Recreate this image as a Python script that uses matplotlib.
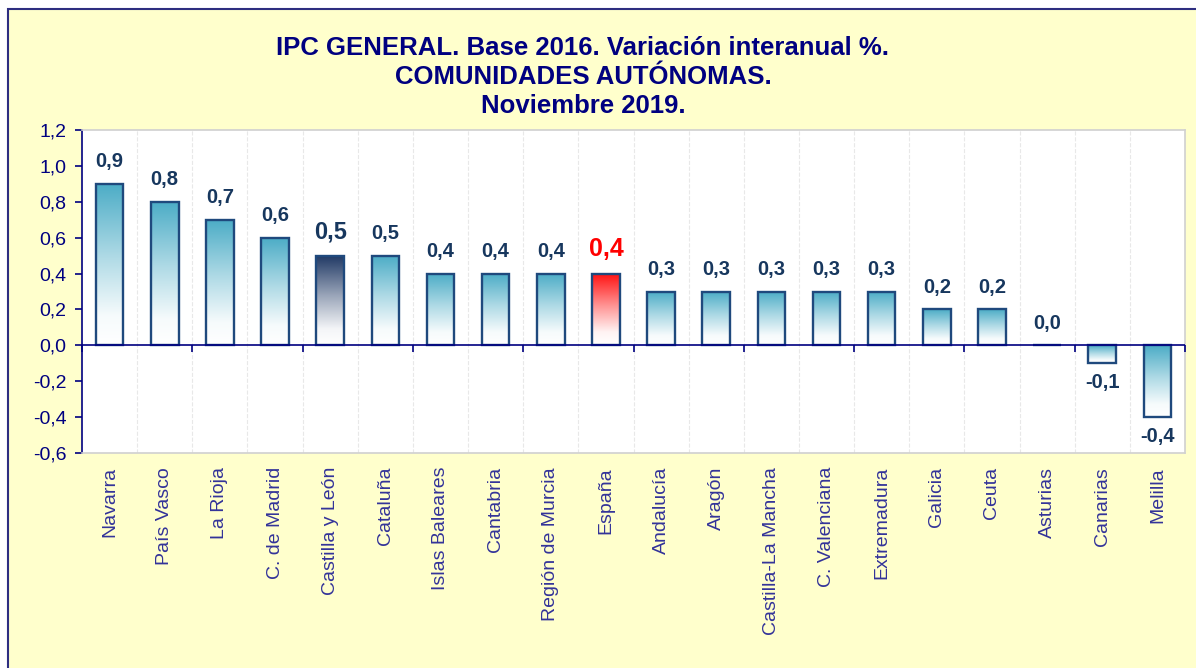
import numpy as np
import matplotlib
matplotlib.use("Agg")
import matplotlib.pyplot as plt
from matplotlib.colors import LinearSegmentedColormap, to_rgb
from matplotlib.patches import Rectangle
from matplotlib.ticker import FuncFormatter

plt.rcParams["font.family"] = ["Liberation Sans", "DejaVu Sans"]

# data
regions = [
    "Navarra", "País Vasco", "La Rioja", "C. de Madrid", "Castilla y León",
    "Cataluña", "Islas Baleares", "Cantabria", "Región de Murcia", "España",
    "Andalucía", "Aragón", "Castilla-La Mancha", "C. Valenciana", "Extremadura",
    "Galicia", "Ceuta", "Asturias", "Canarias", "Melilla",
]
values = [0.9, 0.8, 0.7, 0.6, 0.5, 0.5, 0.4, 0.4, 0.4, 0.4,
          0.3, 0.3, 0.3, 0.3, 0.3, 0.2, 0.2, 0.0, -0.1, -0.4]
title_lines = [
    "IPC GENERAL. Base 2016. Variación interanual %.",
    "COMUNIDADES AUTÓNOMAS.",
    "Noviembre 2019.",
]

NAVY = "#000080"
LABEL_COL = "#17375E"
EDGE = "#1F497D"
TEAL = "#4BACC6"
special = {"Castilla y León": ("#1F3864", LABEL_COL, 17),
           "España": ("#FF1010", "#FF0000", 18)}


def fmt(v):
    return f"{v:.1f}".replace(".", ",")


def fade_cmap(top):
    # white at the bottom of the bar, full colour at the top
    c = np.array(to_rgb(top))
    w = np.ones(3)
    mix = lambda f: tuple(w + (c - w) * f)
    return LinearSegmentedColormap.from_list(
        "g", [(0, "#FFFFFF"), (0.18, mix(0.05)), (0.55, mix(0.45)), (1, top)])


W, H = 1196, 668
fig = plt.figure(figsize=(W / 100, H / 100), dpi=100, facecolor="white")
fig.patches.append(Rectangle((8 / W, -0.02), 1.2, 1 - 9 / H + 0.02,
                             transform=fig.transFigure, facecolor="#FFFFCC",
                             edgecolor="#2E2E80", lw=1.5, zorder=-10))

ax = fig.add_axes([82 / W, 1 - 453 / H, (1185 - 82) / W, (453 - 130) / H])
ax.set_facecolor("white")

x = np.arange(len(regions))
bar_w = 0.5
grad = np.linspace(0, 1, 256).reshape(-1, 1)

for i, (name, v) in enumerate(zip(regions, values)):
    top_col = special.get(name, (TEAL,))[0]
    if v != 0:
        lo, hi = min(0, v), max(0, v)
        ax.imshow(grad, extent=[i - bar_w / 2, i + bar_w / 2, lo, hi],
                  origin="lower", cmap=fade_cmap(top_col), aspect="auto", zorder=2)

ax.bar(x, values, width=bar_w, facecolor="none", edgecolor=EDGE,
       linewidth=1.7, zorder=3)

for i, (name, v) in enumerate(zip(regions, values)):
    _, col, size = special.get(name, (None, LABEL_COL, 14.5))
    if v >= 0:
        ax.annotate(fmt(v), (i, v), xytext=(0, 9), textcoords="offset points",
                    ha="center", va="bottom", fontsize=size, fontweight="bold",
                    color=col, zorder=5)
    else:
        ax.annotate(fmt(v), (i, v), xytext=(0, -7), textcoords="offset points",
                    ha="center", va="top", fontsize=size, fontweight="bold",
                    color=col, zorder=5)

ax.set_xlim(-0.5, len(regions) - 0.5)
ax.set_ylim(-0.6, 1.2)

ax.axhline(0, color=NAVY, lw=1.2, zorder=4)
for b in np.arange(-0.5, len(regions), 2):
    ax.plot(b, 0, marker=3, ms=5, mew=1.2, color=NAVY, clip_on=False, zorder=4)

ax.set_yticks(np.arange(-0.6, 1.21, 0.2))
ax.yaxis.set_major_formatter(FuncFormatter(lambda v, _: fmt(v + 0.0)))
ax.tick_params(axis="y", colors=NAVY, labelsize=14, length=5, width=1.2,
               direction="out", pad=6)

ax.set_xticks(x)
ax.set_xticklabels(regions, rotation=90, fontsize=14, color="#333399")
ax.tick_params(axis="x", which="major", length=0, pad=10)
ax.set_xticks(np.arange(0.5, len(regions) - 0.5, 1), minor=True)
ax.tick_params(axis="x", which="minor", length=0)
ax.grid(which="minor", axis="x", color="#E8E8E8", ls="--", lw=0.8)
ax.set_axisbelow(True)

for side in ("top", "right", "bottom"):
    ax.spines[side].set_color("#D0D0D0")
    ax.spines[side].set_linewidth(1.2)
ax.spines["left"].set_color(NAVY)
ax.spines["left"].set_linewidth(1.2)

for line, ypx in zip(title_lines, [55, 84, 113]):
    fig.text(583 / W, 1 - ypx / H, line, ha="center", va="baseline",
             fontsize=18.5, fontweight="bold", color=NAVY)

fig.savefig("out.png", dpi=100, facecolor=fig.get_facecolor())
